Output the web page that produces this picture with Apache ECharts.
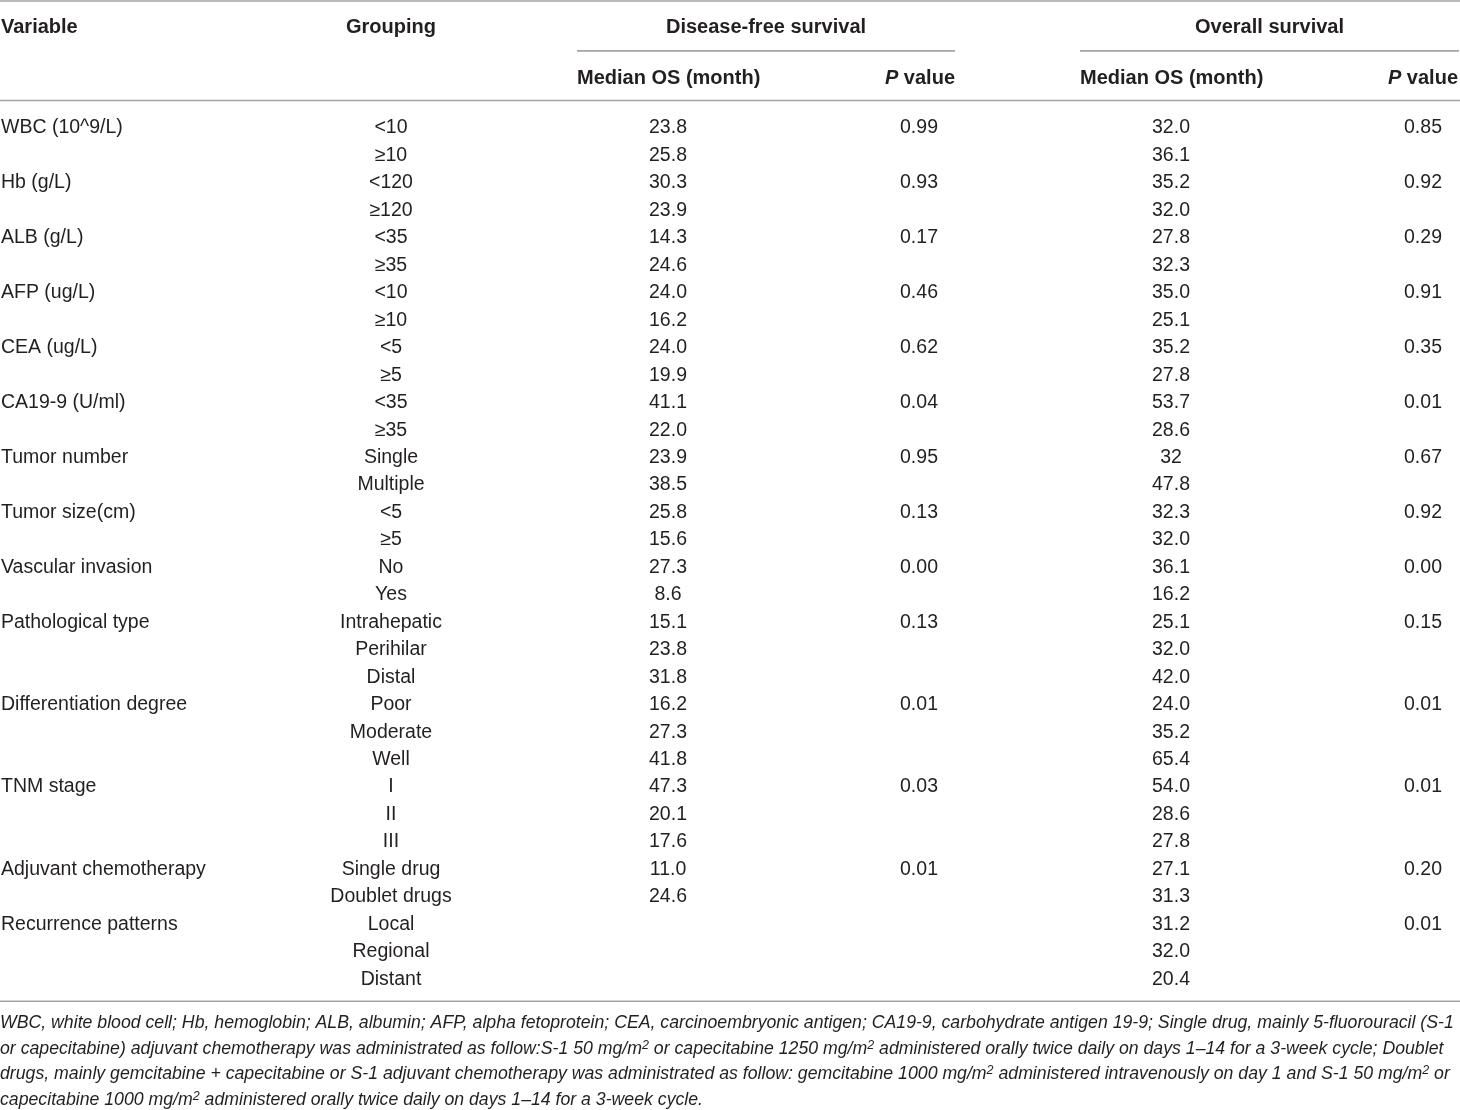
<!DOCTYPE html>
<html>
<head>
<meta charset="utf-8">
<script src="https://cdn.jsdelivr.net/npm/echarts@6/dist/echarts.min.js"></script>
<style>
html,body{margin:0;padding:0;background:#fff;}
#chart{width:1460px;height:1110px;}
</style>
</head>
<body>
<div id="chart"></div>
<script>
// ---------- DATA ----------
const variables = [
  'WBC (10^9/L)', '', 'Hb (g/L)', '', 'ALB (g/L)', '', 'AFP (ug/L)', '', 'CEA (ug/L)', '',
  'CA19-9 (U/ml)', '', 'Tumor number', '', 'Tumor size(cm)', '', 'Vascular invasion', '',
  'Pathological type', '', '', 'Differentiation degree', '', '', 'TNM stage', '', '',
  'Adjuvant chemotherapy', '', 'Recurrence patterns', '', ''
];
const groupings = [
  '<10', '≥10', '<120', '≥120', '<35', '≥35', '<10', '≥10', '<5', '≥5',
  '<35', '≥35', 'Single', 'Multiple', '<5', '≥5', 'No', 'Yes',
  'Intrahepatic', 'Perihilar', 'Distal', 'Poor', 'Moderate', 'Well', 'I', 'II', 'III',
  'Single drug', 'Doublet drugs', 'Local', 'Regional', 'Distant'
];
const dfsMedian = [
  '23.8', '25.8', '30.3', '23.9', '14.3', '24.6', '24.0', '16.2', '24.0', '19.9',
  '41.1', '22.0', '23.9', '38.5', '25.8', '15.6', '27.3', '8.6',
  '15.1', '23.8', '31.8', '16.2', '27.3', '41.8', '47.3', '20.1', '17.6',
  '11.0', '24.6', '', '', ''
];
const dfsP = [
  '0.99', '', '0.93', '', '0.17', '', '0.46', '', '0.62', '',
  '0.04', '', '0.95', '', '0.13', '', '0.00', '',
  '0.13', '', '', '0.01', '', '', '0.03', '', '',
  '0.01', '', '', '', ''
];
const osMedian = [
  '32.0', '36.1', '35.2', '32.0', '27.8', '32.3', '35.0', '25.1', '35.2', '27.8',
  '53.7', '28.6', '32', '47.8', '32.3', '32.0', '36.1', '16.2',
  '25.1', '32.0', '42.0', '24.0', '35.2', '65.4', '54.0', '28.6', '27.8',
  '27.1', '31.3', '31.2', '32.0', '20.4'
];
const osP = [
  '0.85', '', '0.92', '', '0.29', '', '0.91', '', '0.35', '',
  '0.01', '', '0.67', '', '0.92', '', '0.00', '',
  '0.15', '', '', '0.01', '', '', '0.01', '', '',
  '0.20', '', '0.01', '', ''
];
const headerTop = ['Variable', 'Grouping', 'Disease-free survival', 'Overall survival'];
const headerSub = ['Median OS (month)', '{i|P} value', 'Median OS (month)', '{i|P} value'];
const footnoteLines = [
  'WBC, white blood cell; Hb, hemoglobin; ALB, albumin; AFP, alpha fetoprotein; CEA, carcinoembryonic antigen; CA19-9, carbohydrate antigen 19-9; Single drug, mainly 5-fluorouracil (S-1',
  'or capecitabine) adjuvant chemotherapy was administrated as follow:S-1 50 mg/m{sup|2} or capecitabine 1250 mg/m{sup|2} administered orally twice daily on days 1–14 for a 3-week cycle; Doublet',
  'drugs, mainly gemcitabine + capecitabine or S-1 adjuvant chemotherapy was administrated as follow: gemcitabine 1000 mg/m{sup|2} administered intravenously on day 1 and S-1 50 mg/m{sup|2} or',
  'capecitabine 1000 mg/m{sup|2} administered orally twice daily on days 1–14 for a 3-week cycle.'
];

// ---------- LAYOUT (positions in axis units) ----------
const COL = {variable: 1, grouping: 391, dfsMed: 668, dfsP: 919, osMed: 1171, osP: 1423,
             dfsL: 577, dfsR: 955, osL: 1080, osR: 1459};
const ROW = {head1: -3.6, head2: -1.77, ruleTop: -4.58, ruleMid: -2.76, ruleHead: -0.955, ruleBottom: 31.85,
             foot: [32.64, 33.59, 34.5, 35.43]};
const FONT = 'Liberation Sans, Arial, Helvetica, sans-serif';
const INK = '#231f20';
const RULE = '#a4a4a4';

// ---------- BUILD CELLS ----------
const cells = [];
function add(x, r, text, opt) { if (text !== '') cells.push(Object.assign({x: x, r: r, text: text}, opt)); }
const bold = {weight: 'bold', size: 20, lh: 24};
add(COL.variable, ROW.head1, headerTop[0], Object.assign({align: 'left'}, bold));
add(COL.grouping, ROW.head1, headerTop[1], Object.assign({align: 'center'}, bold));
add((COL.dfsL + COL.dfsR) / 2, ROW.head1, headerTop[2], Object.assign({align: 'center'}, bold));
add((COL.osL + COL.osR) / 2, ROW.head1, headerTop[3], Object.assign({align: 'center'}, bold));
add(COL.dfsL, ROW.head2, headerSub[0], Object.assign({align: 'left'}, bold));
add(COL.dfsR, ROW.head2, headerSub[1], Object.assign({align: 'right'}, bold));
add(COL.osL, ROW.head2, headerSub[2], Object.assign({align: 'left'}, bold));
add(COL.osR - 1, ROW.head2, headerSub[3], Object.assign({align: 'right'}, bold));
const reg = {weight: 'normal', size: 19.5, lh: 24};
for (let i = 0; i < groupings.length; i++) {
  add(COL.variable, i + 0.05, variables[i], Object.assign({align: 'left'}, reg));
  add(COL.grouping, i + 0.05, groupings[i], Object.assign({align: 'center'}, reg));
  add(COL.dfsMed, i + 0.05, dfsMedian[i], Object.assign({align: 'center'}, reg));
  add(COL.dfsP, i + 0.05, dfsP[i], Object.assign({align: 'center'}, reg));
  add(COL.osMed, i + 0.05, osMedian[i], Object.assign({align: 'center'}, reg));
  add(COL.osP, i + 0.05, osP[i], Object.assign({align: 'center'}, reg));
}
footnoteLines.forEach(function (t, k) {
  add(COL.variable - 1, ROW.foot[k], t, {align: 'left', weight: 'normal', size: 17.7, lh: 20, italic: true});
});

const rules = [
  [0, 1460, ROW.ruleTop],
  [COL.dfsL, COL.dfsR, ROW.ruleMid],
  [COL.osL, COL.osR, ROW.ruleMid],
  [0, 1460, ROW.ruleHead],
  [0, 1460, ROW.ruleBottom]
];

// ---------- CHART ----------
const chart = echarts.init(document.getElementById('chart'), null, {renderer: 'canvas'});
chart.setOption({
  animation: false,
  backgroundColor: '#ffffff',
  grid: {left: 0, right: 0, top: 0, bottom: 0},
  xAxis: {type: 'value', min: 0, max: 1460, show: false},
  yAxis: {type: 'value', min: -4.614, max: 35.808, inverse: true, show: false},
  series: [
    {
      type: 'custom',
      data: rules.map(function (d) { return [d[0], d[2], d[1]]; }),
      renderItem: function (params, api) {
        const a = api.coord([api.value(0), api.value(1)]);
        const b = api.coord([api.value(2), api.value(1)]);
        return {type: 'line', shape: {x1: a[0], y1: a[1], x2: b[0], y2: b[1]},
                style: {stroke: RULE, lineWidth: 1.6}};
      }
    },
    {
      type: 'custom',
      data: cells.map(function (c) { return [c.x, c.r]; }),
      renderItem: function (params, api) {
        const c = cells[params.dataIndex];
        const p = api.coord([api.value(0), api.value(1)]);
        const fs = c.italic ? 'italic' : 'normal';
        return {
          type: 'text', x: p[0], y: p[1],
          style: {
            text: c.text, fill: INK, fontFamily: FONT, fontSize: c.size, fontWeight: c.weight,
            fontStyle: fs, align: c.align, verticalAlign: 'middle', lineHeight: c.lh,
            rich: {
              i: {fontStyle: 'italic', fontWeight: 'bold', fontSize: c.size, fontFamily: FONT, fill: INK, lineHeight: c.lh},
              sup: {fontSize: 12.5, fontFamily: FONT, fontStyle: 'italic', fill: INK, lineHeight: 12, verticalAlign: 'top'}
            }
          }
        };
      }
    }
  ]
});
</script>
</body>
</html>
